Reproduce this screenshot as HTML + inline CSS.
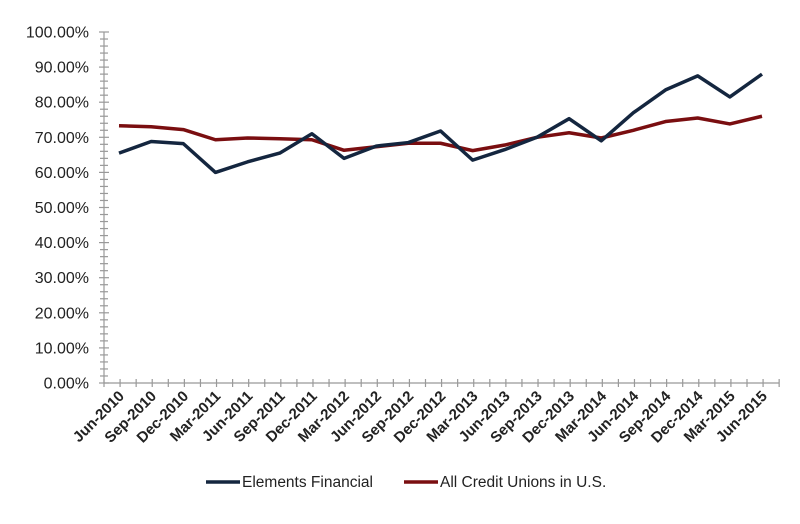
<!DOCTYPE html>
<html><head><meta charset="utf-8"><style>body{margin:0;background:#fff}svg{display:block}</style></head>
<body>
<svg width="800" height="524" xmlns="http://www.w3.org/2000/svg" font-family="Liberation Sans, sans-serif">
<g id="ax" stroke="#999" stroke-width="1.2" fill="none"></g>
<g id="yl" font-size="16" fill="#222" text-anchor="end"></g>
<g id="xl" font-size="15" fill="#222" font-weight="bold" text-anchor="end"></g>
<polyline id="cu" fill="none" stroke="#7a0e10" stroke-width="3.5" stroke-linejoin="round"/>
<polyline id="ef" fill="none" stroke="#14263f" stroke-width="3.5" stroke-linejoin="round"/>
<line x1="206" y1="482" x2="240" y2="482" stroke="#14263f" stroke-width="3.5"/>
<text x="242" y="487" font-size="15.5" fill="#222">Elements Financial</text>
<line x1="404" y1="482" x2="438" y2="482" stroke="#7a0e10" stroke-width="3.5"/>
<text x="440" y="487" font-size="15.5" fill="#222">All Credit Unions in U.S.</text>
<script>
var ns="http://www.w3.org/2000/svg",y0=383,py=3.51,x0=103,cw=32.15;
function Y(v){return y0-v*py}
function el(t,a,p,tx){var e=document.createElementNS(ns,t);for(var k in a)e.setAttribute(k,a[k]);if(tx)e.textContent=tx;document.getElementById(p).appendChild(e);}
el("line",{x1:104,y1:Y(100),x2:104,y2:y0},"ax");
el("line",{x1:104,y1:y0,x2:779,y2:y0},"ax");
for(var v=0;v<=100;v+=2){el("line",{x1:v%10?100:99,y1:Y(v),x2:v%10?108:109,y2:Y(v)},"ax");}
for(var v=0;v<=100;v+=10){el("text",{x:89,y:Y(v)+5.5},"yl",v.toFixed(2)+"%");}
for(var i=0;i<=42;i++){var x=104+i*cw/2;el("line",{x1:x,y1:y0-4,x2:x,y2:y0+4},"ax");}
var L=["Jun-2010","Sep-2010","Dec-2010","Mar-2011","Jun-2011","Sep-2011","Dec-2011","Mar-2012","Jun-2012","Sep-2012","Dec-2012","Mar-2013","Jun-2013","Sep-2013","Dec-2013","Mar-2014","Jun-2014","Sep-2014","Dec-2014","Mar-2015","Jun-2015"];
var E=[65.5,68.8,68.2,60,63,65.5,71,64,67.5,68.5,71.8,63.5,66.5,70,75.3,69,77,83.5,87.5,81.5,88];
var C=[73.3,73,72.2,69.3,69.8,69.6,69.3,66.3,67.3,68.3,68.3,66.2,67.8,70,71.3,69.8,72,74.5,75.5,73.8,76];
var pe=[],pc=[];
for(var i=0;i<21;i++){var x=119+i*cw;pe.push(x+","+Y(E[i]));pc.push(x+","+Y(C[i]));
el("text",{x:x+6,y:397,transform:"rotate(-45 "+(x+6)+" 397)"},"xl",L[i]);}
document.getElementById("ef").setAttribute("points",pe.join(" "));
document.getElementById("cu").setAttribute("points",pc.join(" "));
</script>
</svg>
</body></html>
